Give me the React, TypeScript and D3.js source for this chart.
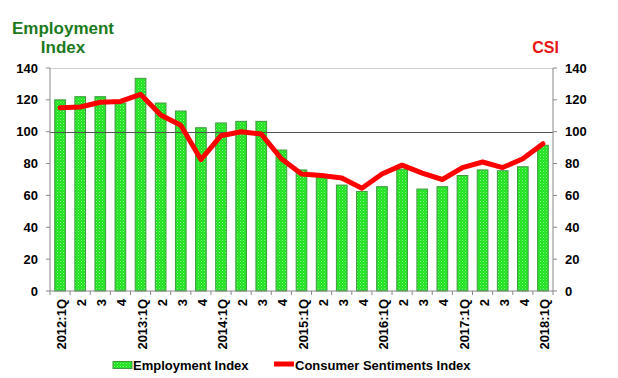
import React from "react";
import * as d3 from "d3";

const quarterLabels = [
  "2012:1Q", "2", "3", "4",
  "2013:1Q", "2", "3", "4",
  "2014:1Q", "2", "3", "4",
  "2015:1Q", "2", "3", "4",
  "2016:1Q", "2", "3", "4",
  "2017:1Q", "2", "3", "4",
  "2018:1Q",
];
const employmentIndex = [
  120, 122, 122, 118, 133.5, 118, 113, 102.5, 105.5, 106.5, 106.5, 88.5,
  76, 72, 66.5, 62.5, 65.5, 76.5, 64, 65.5, 72.5, 76, 75.5, 78, 91.5,
];
const consumerSentiments = [
  115, 115.5, 118.5, 119, 123.5, 110.5, 104, 82.5, 97.5, 100, 98.5, 83,
  73.5, 72.5, 71, 64.5, 73.5, 79, 74, 70, 77.5, 81, 77.5, 83, 92.5,
];
const yTicks = [0, 20, 40, 60, 80, 100, 120, 140];

const W = 618;
const H = 378;
const left = 50;
const right = 553;
const top = 68;
const bottom = 291;
const FONT = "'Liberation Sans', Arial, Helvetica, sans-serif";

export default function App() {
  const idx = quarterLabels.map((_, i) => i);
  const x = d3.scaleBand<number>().domain(idx).range([left, right]).paddingInner(0.47).paddingOuter(0.235);
  const xb = d3.scaleBand<number>().domain(idx).range([left, right]);
  const y = d3.scaleLinear().domain([0, 140]).range([bottom, top]);
  const line = d3
    .line<number>()
    .x((_, i) => (xb(i) as number) + xb.bandwidth() / 2)
    .y((d) => y(d));

  return (
    <svg
      width={W}
      height={H}
      style={{ position: "absolute", left: 0, top: 0, background: "#fff" }}
      fontFamily={FONT}
    >
      <defs>
        <pattern id="dots" width="3" height="3" patternUnits="userSpaceOnUse">
          <rect width="3" height="3" fill="#1ee31e" />
          <rect x="0" y="0" width="1" height="1" fill="#8af28a" />
          <rect x="1.5" y="1.5" width="1" height="1" fill="#5fea5f" />
        </pattern>
      </defs>

      {/* top border */}
      <line x1={left} x2={right} y1={top + 0.5} y2={top + 0.5} stroke="#cfcfcf" strokeWidth={1} />

      {/* bars */}
      {employmentIndex.map((v, i) => (
        <rect
          key={i}
          x={x(i)}
          y={y(v)}
          width={x.bandwidth()}
          height={bottom - y(v)}
          fill="url(#dots)"
          stroke="#3f9a3f"
          strokeWidth={1}
        />
      ))}

      {/* 100 reference line */}
      <line x1={left} x2={right} y1={Math.round(y(100)) + 0.5} y2={Math.round(y(100)) + 0.5} stroke="#555" strokeWidth={1.2} />

      {/* CSI line */}
      <path
        d={line(consumerSentiments) || ""}
        fill="none"
        stroke="#ff0000"
        strokeWidth={5}
        strokeLinejoin="round"
        strokeLinecap="round"
      />

      {/* left axis */}
      <line x1={left} x2={left} y1={top} y2={bottom} stroke="#888" />
      {yTicks.map((t) => (
        <g key={"l" + t}>
          <line x1={left - 4} x2={left} y1={y(t)} y2={y(t)} stroke="#888" />
          <text x={38} y={y(t)} dy="0.35em" textAnchor="end" fontSize={13} fontWeight="bold" fill="#000">
            {t}
          </text>
        </g>
      ))}

      {/* right axis */}
      <line x1={right} x2={right} y1={top} y2={bottom} stroke="#888" />
      {yTicks.map((t) => (
        <g key={"r" + t}>
          <line x1={right} x2={right + 4} y1={y(t)} y2={y(t)} stroke="#888" />
          <text x={565} y={y(t)} dy="0.35em" textAnchor="start" fontSize={13} fontWeight="bold" fill="#000">
            {t}
          </text>
        </g>
      ))}

      {/* bottom axis */}
      <line x1={left} x2={right} y1={bottom} y2={bottom} stroke="#888" />
      {idx.concat([idx.length]).map((i) => {
        const px = i < idx.length ? (xb(i) as number) : right;
        return <line key={"bt" + i} x1={px} x2={px} y1={bottom} y2={bottom + 4} stroke="#888" />;
      })}
      {quarterLabels.map((lab, i) => {
        const cx = (xb(i) as number) + xb.bandwidth() / 2 + 1.5;
        return (
          <text
            key={"xl" + i}
            transform={`translate(${cx},${299}) rotate(-90)`}
            dy="0.35em"
            textAnchor="end"
            fontSize={13}
            fontWeight="bold"
            fill="#000"
          >
            {lab}
          </text>
        );
      })}

      {/* axis titles */}
      <text x={63} y={34} textAnchor="middle" fontSize={17} fontWeight="bold" fill="#1c7a1c">
        Employment
      </text>
      <text x={63} y={53} textAnchor="middle" fontSize={17} fontWeight="bold" fill="#1c7a1c">
        Index
      </text>
      <text x={545.5} y={53} textAnchor="middle" fontSize={16} fontWeight="bold" fill="#e81414">
        CSI
      </text>

      {/* legend */}
      <rect x={113} y={361.5} width={19} height={7} fill="url(#dots)" stroke="#3f9a3f" strokeWidth={1} />
      <text x={133} y={370} fontSize={13} fontWeight="bold" fill="#000">
        Employment Index
      </text>
      <line x1={274} x2={294} y1={364} y2={364} stroke="#ff0000" strokeWidth={5} />
      <text x={295} y={370} fontSize={13} fontWeight="bold" fill="#000">
        Consumer Sentiments Index
      </text>
    </svg>
  );
}
